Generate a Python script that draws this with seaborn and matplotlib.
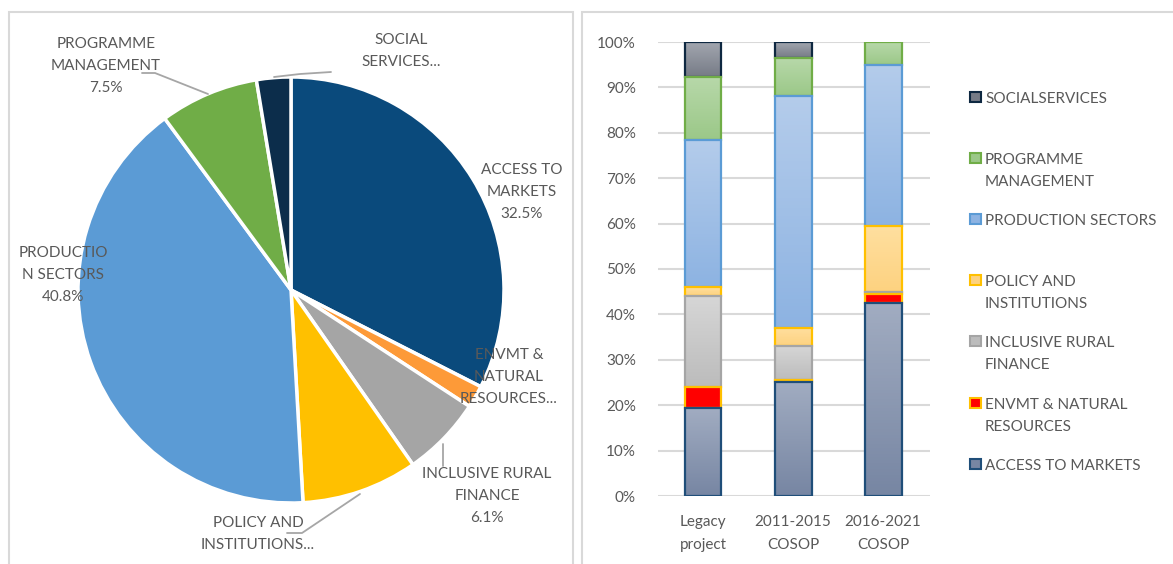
import numpy as np
import pandas as pd
import seaborn as sns
import matplotlib.pyplot as plt
from matplotlib.patches import Rectangle
from matplotlib.colors import LinearSegmentedColormap

# ---- data ----
# pie: overall share by sector (clockwise from 12 o'clock)
pie_sectors = ["ACCESS TO MARKETS", "ENVMT & NATURAL RESOURCES", "INCLUSIVE RURAL FINANCE",
               "POLICY AND INSTITUTIONS", "PRODUCTION SECTORS", "PROGRAMME MANAGEMENT",
               "SOCIAL SERVICES"]
pie_share = [32.5, 1.7, 6.1, 8.8, 40.8, 7.5, 2.6]
pie_labels = ["ACCESS TO\nMARKETS\n32.5%", "ENVMT &\nNATURAL\nRESOURCES...",
              "INCLUSIVE RURAL\nFINANCE\n6.1%", "POLICY AND\nINSTITUTIONS...",
              "PRODUCTIO\nN SECTORS\n40.8%", "PROGRAMME\nMANAGEMENT\n7.5%",
              "SOCIAL\nSERVICES..."]
pie_colors = ["#0a4a7c", "#fd9a38", "#a5a5a5", "#ffc000", "#5b9bd5", "#70ad47", "#0c2d4b"]

# stacked bars: share (%) per period, bottom segment first
periods = ["Legacy\nproject", "2011-2015\nCOSOP", "2016-2021\nCOSOP"]
access = [19.3, 25.2, 42.6]
envmt = [4.8, 0.3, 2.0]
rural_finance = [19.9, 7.6, 0.3]
policy = [2.0, 4.0, 14.5]
production = [32.5, 51.1, 35.6]
prog_mgmt = [13.8, 8.3, 5.0]
social = [7.7, 3.5, 0.0]
stack = [access, envmt, rural_finance, policy, production, prog_mgmt, social]
legend_labels = ["ACCESS TO MARKETS", "ENVMT & NATURAL\nRESOURCES", "INCLUSIVE RURAL\nFINANCE",
                 "POLICY AND\nINSTITUTIONS", "PRODUCTION SECTORS", "PROGRAMME\nMANAGEMENT",
                 "SOCIALSERVICES"]
# (top colour, bottom colour, edge colour) of each gradient segment
bar_styles = [("#a1acc1", "#7786a3", "#1f4e79"),
              ("#ff0000", "#ff0000", "#ffc000"),
              ("#d6d6d6", "#bcbcbc", "#a5a5a5"),
              ("#ffdf9f", "#fdd280", "#ffc000"),
              ("#b4cceb", "#8db3e2", "#5b9bd5"),
              ("#b7d8a9", "#9bc888", "#70ad47"),
              ("#a2a6af", "#767b86", "#0e2841")]

sns.set_theme(style="white")
plt.rcParams['font.family'] = ['Lato', 'DejaVu Sans']
TXT = "#595959"
W, H = 1173, 564
LS = 1.75

fig = plt.figure(figsize=(W / 100, H / 100), dpi=100)

# panel frames
for x0, x1 in [(9, 573), (582, 1190)]:
    fig.patches.append(Rectangle((x0 / W, -0.05), (x1 - x0) / W, 1.05 - 12 / H,
                                 transform=fig.transFigure, fill=False,
                                 edgecolor="#d9d9d9", linewidth=1.5))

# ---- pie ----
axp = fig.add_axes([0, 0, 580 / W, 1])
cx, cy, r = 291, H - 290, 213
axp.pie(pie_share, colors=pie_colors, startangle=90, counterclock=False,
        center=(cx, cy), radius=r,
        wedgeprops=dict(edgecolor="white", linewidth=2.5))
axp.set_xlim(0, 580)
axp.set_ylim(0, H)
axp.set_aspect("equal")
axp.axis("off")

label_pos = [(522, 192), (509, 377), (487, 496), (258, 534), (63, 275), (106, 66), (401, 51)]
for txt, (x, y) in zip(pie_labels, label_pos):
    axp.text(x, H - y, txt, ha="center", va="center", multialignment="center",
             fontsize=11, color=TXT, linespacing=LS)

leaders = [[(142, 73), (155, 73), (208, 94)],
           [(274, 77), (300, 74), (331, 72)],
           [(287, 533), (302, 533), (360, 494)],
           [(443, 444), (443, 466)]]
for pts in leaders:
    xs = [p[0] for p in pts]
    ys = [H - p[1] for p in pts]
    axp.plot(xs, ys, color="#a6a6a6", linewidth=1.3)

# ---- stacked bars ----
axb = fig.add_axes([658 / W, (H - 496) / H, 272 / W, 454 / H])
cum = np.cumsum(np.array(stack), axis=0)
bar_w = 0.41
for k, i in enumerate(reversed(range(len(stack)))):
    z = 2 + k
    top_c, bot_c, edge_c = bar_styles[i]
    sns.barplot(x=periods, y=cum[i], color=top_c, saturation=1, width=bar_w,
                linewidth=0, errorbar=None, ax=axb, zorder=z)
    cmap = LinearSegmentedColormap.from_list("g%d" % i, [bot_c, top_c])
    for j, p in enumerate(axb.patches[-3:]):
        val = stack[i][j]
        if val <= 0:
            continue
        x0, w = p.get_x(), p.get_width()
        y0, y1 = cum[i][j] - val, cum[i][j]
        im = axb.imshow(np.linspace(0, 1, 64).reshape(-1, 1), cmap=cmap, origin="lower",
                        extent=(x0, x0 + w, y0, y1), aspect="auto", zorder=z + 0.1)
        im.set_clip_path(p)
        axb.add_patch(Rectangle((x0, y0), w, val, fill=False, edgecolor=edge_c,
                                linewidth=1.6, zorder=z + 0.2))

axb.set_xlim(-0.5, 2.52)
axb.set_ylim(0, 100)
axb.set_yticks(range(0, 101, 10))
axb.set_yticklabels(["%d%%" % v for v in range(0, 101, 10)])
axb.yaxis.grid(True, color="#d9d9d9", linewidth=1.5)
axb.set_axisbelow(True)
for s in axb.spines.values():
    s.set_visible(False)
axb.tick_params(axis="y", length=0, pad=16, labelsize=11, labelcolor=TXT)
axb.tick_params(axis="x", length=0, pad=14, labelsize=11, labelcolor=TXT)
for lbl in axb.get_xticklabels():
    lbl.set_linespacing(LS)
axb.set_xlabel("")
axb.set_ylabel("")

# legend, drawn entry by entry (marker sits at the first text line)
leg_y = [464, 403, 341, 280, 219, 158, 97]
for i in range(len(stack)):
    top_c, bot_c, edge_c = bar_styles[i]
    y = leg_y[i]
    fig.patches.append(Rectangle((970 / W, (H - y - 5) / H), 11 / W, 10 / H,
                                 transform=fig.transFigure, facecolor=bot_c,
                                 edgecolor=edge_c, linewidth=1.5))
    fig.text(985 / W, (H - y + 5) / H, legend_labels[i], ha="left", va="top",
             fontsize=11, color=TXT, linespacing=LS)

fig.savefig("out.png", dpi=100)
